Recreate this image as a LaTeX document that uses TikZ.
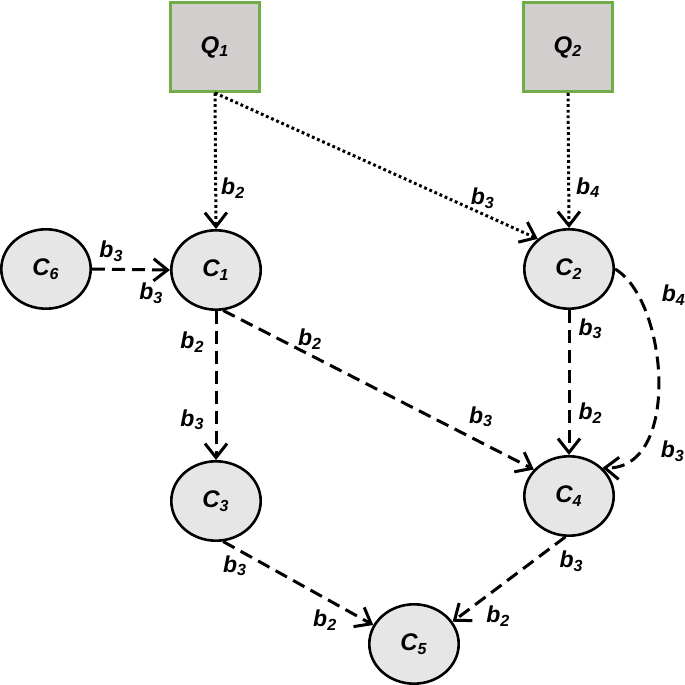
\documentclass[tikz,border=0pt]{standalone}
\usepackage{fontspec}
\setmainfont{Liberation Sans}
\usepackage{tikz}
\usetikzlibrary{shapes.geometric, arrows.meta}

\definecolor{qgreen}{RGB}{112,173,71}
\definecolor{qgray}{RGB}{210,206,206}
\definecolor{cgray}{RGB}{230,230,230}

\begin{document}
\begin{tikzpicture}[
            x=0.5pt, y=0.5pt,
            qbox/.style={rectangle, draw=qgreen, line width=1.5pt, fill=qgray, minimum size=44.5pt, font=\fontsize{12}{14}\selectfont\bfseries\itshape}, % Source squares
            cnode/.style={ellipse, draw, line width=1.3pt, fill=cgray, minimum width=44.7pt, minimum height=39.7pt, inner sep=0pt, font=\fontsize{12}{14}\selectfont\bfseries\itshape}, % Component ellipses
            lbl/.style={font=\fontsize{11.5}{13}\selectfont\bfseries\itshape, inner sep=2pt}, % Edge labels
            dep/.style={-{Straight Barb[length=7pt, width=11pt]}, line width=1.5pt, dash pattern=on 6.5pt off 3.5pt}, % Dashed links
            ctl/.style={-{Straight Barb[length=7pt, width=11pt]}, line width=1.5pt, dash pattern=on 1.4pt off 1.4pt} % Dotted links
            ]
        \useasboundingbox (0,0) rectangle (685,685);

                % Sources on top
                \node[qbox] (Q1) at (215,638) {Q\textsubscript{1}};
                \node[qbox] (Q2) at (568,638) {Q\textsubscript{2}};

                % Components
                \node[cnode] (C6) at (46,416) {C\textsubscript{6}};
                \node[cnode] (C1) at (216,415) {C\textsubscript{1}};
                \node[cnode] (C2) at (569,416) {C\textsubscript{2}};
                \node[cnode] (C3) at (216,184) {C\textsubscript{3}};
                \node[cnode] (C4) at (569,189) {C\textsubscript{4}};
                \node[cnode] (C5) at (414,41) {C\textsubscript{5}};

                % Dotted links from the sources
                \draw[ctl] (Q1.south) -- (C1.north) node[lbl, pos=0.7, right] (q1c1) {b\textsubscript{2}};
                \draw[ctl] (Q1.south) -- (C2.136) node[lbl, pos=0.83, above] (q1c2) {b\textsubscript{3}};
                \draw[ctl] (Q2.south) -- (C2.north) node[lbl, pos=0.7, right=1pt] (q2c2) {b\textsubscript{4}};

                % Dashed links between components
                \draw[dep] (C6.east) -- (C1.west) node[lbl, pos=0.25, above=1pt] (c6c1a) {b\textsubscript{3}} node[lbl, pos=0.76, below=4pt] (c6c1b) {b\textsubscript{3}};
                \draw[dep] (C1.south) -- (C3.north) node[lbl, pos=0.21, left=3pt] (c1c3a) {b\textsubscript{2}} node[lbl, pos=0.73, left=3pt] (c1c3b) {b\textsubscript{3}};
                \draw[dep] (C1.-80) -- (C4.143) node[lbl, pos=0.28, above] (c1c4a) {b\textsubscript{2}} node[lbl, pos=0.83, above=5pt] (c1c4b) {b\textsubscript{3}};
                \draw[dep] (C2.south) -- (C4.north) node[lbl, pos=0.13, right=2pt] (c2c4a) {b\textsubscript{3}} node[lbl, pos=0.71, right=2pt] (c2c4b) {b\textsubscript{2}};
                \draw[dep] (C2.east) .. controls (668,385) and (682,215) .. (C4.40) node[lbl, pos=0.17, right=9pt] (c2c4c) {b\textsubscript{4}} node[lbl, pos=0.8, right=8pt] (c2c4d) {b\textsubscript{3}};
                \draw[dep] (C3.-80) -- (C5.155) node[lbl, pos=0.08, below=1pt] (c3c5a) {b\textsubscript{3}} node[lbl, pos=0.68, below=3pt] (c3c5b) {b\textsubscript{2}};
                \draw[dep] (C4.-95) -- (C5.30) node[lbl, pos=0.1, below right] (c4c5a) {b\textsubscript{3}} node[lbl, pos=0.75, below right] (c4c5b) {b\textsubscript{2}};

            \end{tikzpicture}
\end{document}
